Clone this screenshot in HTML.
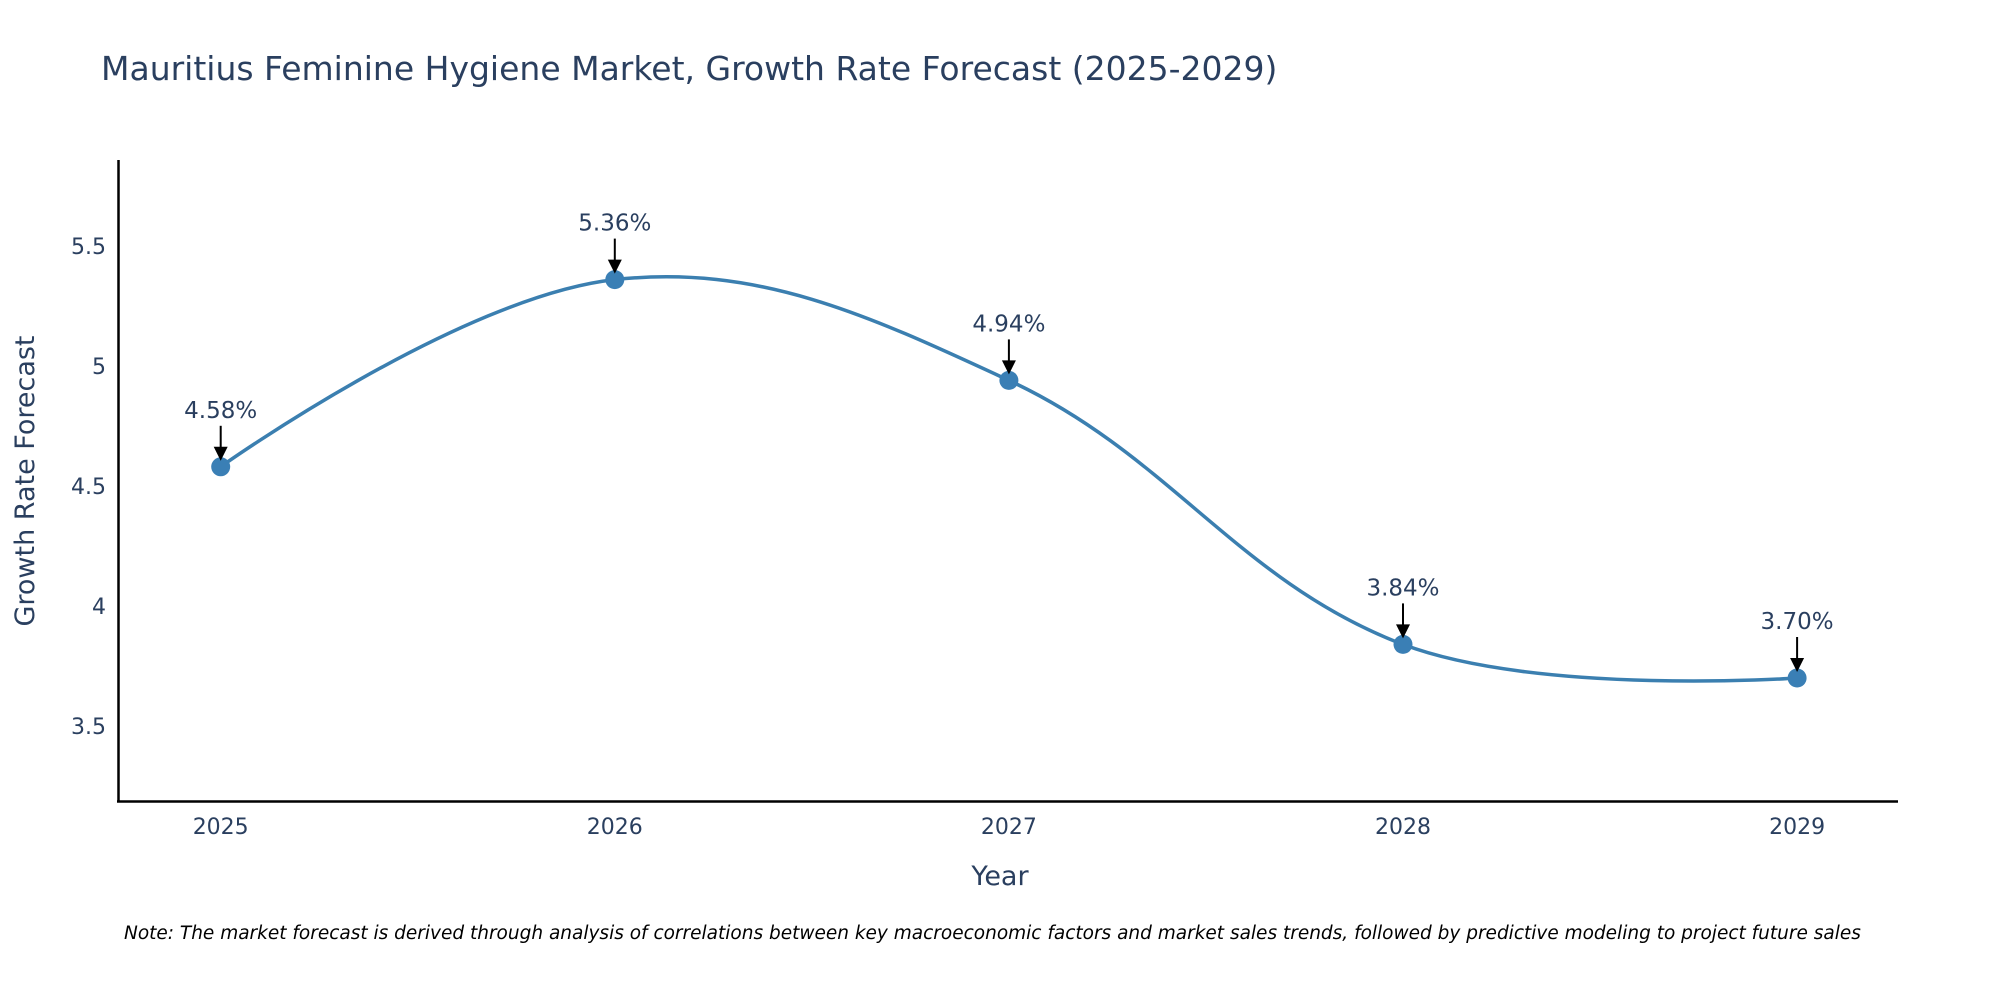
<!DOCTYPE html>
<html><head><meta charset="utf-8"><style>
body{margin:0;background:#fff;overflow:hidden;}
svg{display:block;font-family:"DejaVu Sans","Liberation Sans",sans-serif;}
</style></head><body>
<svg id="chart" width="2000" height="1000" viewBox="0 0 2000 1000">
<text x="101" y="80" font-size="33" fill="#2a3f5f">Mauritius Feminine Hygiene Market, Growth Rate Forecast (2025-2029)</text>
<g id="yticks"></g>
<g id="xticks"></g>
<line x1="118.5" y1="160" x2="118.5" y2="802" stroke="#000" stroke-width="2.5"/>
<line x1="117" y1="801.5" x2="1898" y2="801.5" stroke="#000" stroke-width="2.5"/>
<path id="line" fill="none" stroke="#3b7fb0" stroke-width="3.5"/>
<g id="points"></g>
<g id="annots"></g>
<text x="1000" y="885" font-size="27" fill="#2a3f5f" text-anchor="middle">Year</text>
<text transform="translate(34,481) rotate(-90)" font-size="27" fill="#2a3f5f" text-anchor="middle">Growth Rate Forecast</text>
<text x="124" y="939" font-size="18.5" font-style="italic" fill="#000">Note: The market forecast is derived through analysis of correlations between key macroeconomic factors and market sales trends, followed by predictive modeling to project future sales</text>
</svg>
<script>
const years = [2025, 2026, 2027, 2028, 2029];
const values = [4.58, 5.36, 4.94, 3.84, 3.70];
const labels = ["4.58%", "5.36%", "4.94%", "3.84%", "3.70%"];
const yTickValues = [3.5, 4, 4.5, 5, 5.5];
const yTickLabels = ["3.5", "4", "4.5", "5", "5.5"];

const NS = "http://www.w3.org/2000/svg";
const xScale = v => 220.7 + (v - 2025) * 394.1;
const yScale = v => 726 - (v - 3.5) * 240;
function mk(tag, attrs, parent, text){
  const e = document.createElementNS(NS, tag);
  for (const k in attrs) e.setAttribute(k, attrs[k]);
  if (text !== undefined) e.textContent = text;
  parent.appendChild(e); return e;
}
const yt = document.getElementById("yticks");
yTickValues.forEach((v,i)=>{
  const t = mk("text",{x:106,y:yScale(v)+8,"font-size":22,fill:"#2a3f5f","text-anchor":"end"},yt,yTickLabels[i]);
  
  
});
const xt = document.getElementById("xticks");
years.forEach(y=>{
  const t = mk("text",{x:xScale(y),y:834,"font-size":22,fill:"#2a3f5f","text-anchor":"middle"},xt,String(y));
  
  
});
const pts = years.map((y,i)=>[xScale(y), yScale(values[i])]);
const s = 0.38;
const cIn = [], cOut = [];
pts.forEach((p,i)=>{
  if (i===0 || i===pts.length-1){ cIn.push(p); cOut.push(p); return; }
  const a=pts[i-1], b=pts[i+1];
  const d1=Math.hypot(p[0]-a[0],p[1]-a[1]), d2=Math.hypot(b[0]-p[0],b[1]-p[1]);
  const tx=b[0]-a[0], ty=b[1]-a[1];
  cIn.push([p[0]-tx*s*d1/(d1+d2), p[1]-ty*s*d1/(d1+d2)]);
  cOut.push([p[0]+tx*s*d2/(d1+d2), p[1]+ty*s*d2/(d1+d2)]);
});
let d = "M"+pts[0].join(",");
for (let i=1;i<pts.length;i++) d += " C"+cOut[i-1].join(",")+" "+cIn[i].join(",")+" "+pts[i].join(",");
document.getElementById("line").setAttribute("d", d);
const pg = document.getElementById("points"), ag = document.getElementById("annots");
pts.forEach((p,i)=>{
  const c = mk("circle",{cx:p[0],cy:p[1],r:9.5,fill:"#3a7fb5"},pg);
  
  
  const l = mk("line",{x1:p[0],y1:p[1]-41,x2:p[0],y2:p[1]-18,stroke:"#000","stroke-width":2},ag);
  
  
  const h = mk("path",{d:`M${p[0]-7},${p[1]-20} L${p[0]+7},${p[1]-20} L${p[0]},${p[1]-6} Z`,fill:"#000"},ag);
  
  
  const t = mk("text",{x:p[0],y:p[1]-49,"font-size":23,fill:"#2a3f5f","text-anchor":"middle"},ag,labels[i]);
  
  
});
</script>
</body></html>
